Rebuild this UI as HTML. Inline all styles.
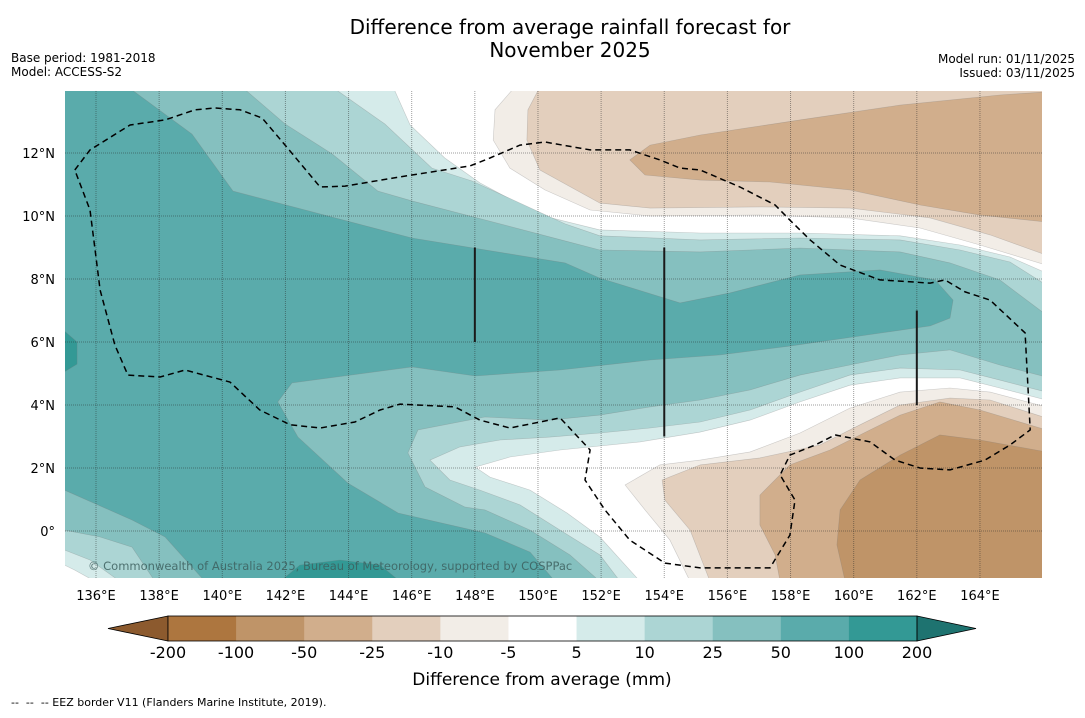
<!DOCTYPE html>
<html><head><meta charset="utf-8"><style>
body{margin:0;background:#fff;width:1085px;height:713px;overflow:hidden;font-family:"Liberation Sans",sans-serif;}
svg text{font-family:"DejaVu Sans","Liberation Sans",sans-serif;}
</style></head><body>
<svg id="chart" width="1085" height="713" viewBox="0 0 1085 713" xmlns="http://www.w3.org/2000/svg">
<text x="570" y="34" font-size="20" text-anchor="middle" fill="#000">Difference from average rainfall forecast for</text>
<text x="570" y="57" font-size="20" text-anchor="middle" fill="#000">November 2025</text>
<text x="11" y="62" font-size="12">Base period: 1981-2018</text>
<text x="11" y="76" font-size="12">Model: ACCESS-S2</text>
<text x="1075" y="63" font-size="12" text-anchor="end">Model run: 01/11/2025</text>
<text x="1075" y="77" font-size="12" text-anchor="end">Issued: 03/11/2025</text>
<defs><clipPath id="mapclip"><rect x="65" y="91" width="977" height="487"/></clipPath></defs>
<rect x="65" y="91" width="977" height="487" fill="#fff"/>
<g id="fills" clip-path="url(#mapclip)"></g>
<g id="grid" clip-path="url(#mapclip)"></g>
<g id="lines" clip-path="url(#mapclip)"></g>
<text x="88" y="570" font-size="11.5" fill="#3d5f5e" fill-opacity="0.85">© Commonwealth of Australia 2025, Bureau of Meteorology, supported by COSPPac</text>
<g id="xticks"></g>
<g id="yticks"></g>
<g id="cbar"></g>
<text x="542" y="685" font-size="17" text-anchor="middle">Difference from average (mm)</text>
<text x="11" y="706" font-size="11" xml:space="preserve">--  --  -- EEZ border V11 (Flanders Marine Institute, 2019).</text>
</svg>
<script>
// ---- data (lon/lat, mm) ----
const levelColors = ["#8c5a2e","#ad763f","#bf9468","#d1ae8c","#e3cfbd","#f2ede7","#ffffff","#d5ebea","#acd5d4","#85c0bf","#5aabab","#339995","#1e7370"];
const levelTicks = ["-200","-100","-50","-25","-10","-5","5","10","25","50","100","200"];
const lonTicks = [136,138,140,142,144,146,148,150,152,154,156,158,160,162,164];
const latTicks = [0,2,4,6,8,10,12];
const wet5 = [[135.0,14.1],[145.41,14.1],[145.95,12.89],[147.05,11.84],[148.16,11.05],[150.06,10.03],[151.96,9.56],[155.14,9.46],[158.30,9.46],[161.47,9.37],[163.37,9.08],[164.95,8.70],[166.1,8.19],[166.1,4.16],[164.63,4.54],[163.37,4.86],[161.47,4.86],[159.88,4.63],[158.30,4.10],[156.72,3.52],[155.14,3.14],[153.23,2.83],[150.70,2.57],[149.11,2.35],[148.01,2.03],[148.48,1.71],[149.75,1.30],[150.92,0.57],[151.96,-0.19],[153.23,-1.6],[135.97,-1.6],[135.33,-1.24],[135.0,-1.08]];
const wet10 = [[135.0,14.1],[143.48,14.1],[145.15,12.92],[146.64,11.52],[147.91,11.11],[150.86,9.75],[151.96,9.37],[155.14,9.24],[158.30,9.30],[161.47,9.24],[163.37,8.92],[164.95,8.54],[166.1,7.81],[166.1,4.41],[164.63,4.79],[163.37,5.11],[161.47,5.17],[159.88,4.95],[158.30,4.41],[156.72,3.84],[155.14,3.46],[153.55,3.27],[151.96,3.11],[150.38,2.98],[148.80,2.89],[147.53,2.67],[146.58,2.25],[147.21,1.62],[148.16,1.30],[149.43,0.83],[150.70,0.03],[151.96,-0.76],[152.60,-1.6],[136.76,-1.6],[135.81,-0.92],[135.0,-0.60]];
const wet25 = [[135.0,14.1],[140.62,14.1],[141.99,12.92],[143.48,11.97],[144.93,10.79],[146.01,10.48],[150.86,9.21],[151.96,8.92],[155.14,8.86],[158.30,8.98],[161.47,8.86],[163.05,8.51],[164.63,7.97],[166.1,6.86],[166.1,4.89],[164.63,5.27],[163.05,5.75],[161.47,5.59],[159.88,5.27],[158.30,4.95],[156.72,4.48],[155.14,4.16],[153.55,3.94],[151.96,3.68],[150.38,3.52],[148.32,3.62],[146.20,3.21],[145.88,2.48],[146.42,1.40],[147.69,0.76],[148.32,0.67],[149.75,0.03],[151.01,-0.76],[151.96,-1.6],[137.87,-1.6],[137.14,-0.51],[136.13,-0.19],[135.0,0.03]];
const wet50 = [[135.0,14.1],[137.01,14.1],[139.04,12.60],[140.34,10.79],[146.01,9.30],[150.86,8.51],[151.96,8.03],[154.50,7.24],[156.08,7.56],[158.30,8.13],[160.83,8.29],[162.58,7.97],[163.15,7.33],[163.05,6.76],[162.42,6.51],[160.20,6.19],[157.98,5.87],[155.77,5.59],[153.55,5.43],[150.70,5.11],[148.01,4.92],[146.01,5.21],[142.21,4.70],[141.76,4.10],[142.40,2.98],[143.98,1.52],[145.57,0.57],[148.32,-0.06],[149.75,-0.67],[150.54,-1.6],[139.45,-1.6],[138.19,-0.19],[137.14,0.35],[135.0,1.30]];
const wet100a = [[141.83,-1.6],[142.46,-1.08],[143.73,-0.92],[145.0,-1.08],[145.63,-1.6]];
const wet100b = [[135.0,6.35],[135.4,6.0],[135.4,5.3],[135.0,5.05]];
const dry5n = [[149.27,14.1],[148.64,13.37],[148.58,12.41],[149.11,11.52],[150.22,10.83],[151.65,10.19],[153.55,10.00],[157.03,10.03],[159.88,9.94],[162.10,9.62],[164.00,9.08],[166.1,8.44],[166.1,14.1]];
const dry10n = [[150.06,14.1],[149.68,13.37],[149.65,12.41],[150.06,11.46],[151.96,10.41],[153.55,10.25],[157.03,10.29],[159.88,10.25],[162.42,9.94],[164.32,9.40],[166.1,8.76],[166.1,14.1]];
const dry25n = [[166.1,13.94],[164.63,13.84],[161.47,13.52],[158.30,13.05],[155.14,12.57],[153.55,12.25],[152.91,11.78],[153.39,11.30],[155.14,11.14],[157.35,11.08],[159.88,10.83],[162.10,10.35],[164.00,10.03],[166.1,9.81]];
const dry5s = [[166.1,3.94],[164.32,4.41],[163.05,4.54],[161.47,4.41],[159.88,3.90],[158.30,3.11],[156.72,2.51],[155.14,2.25],[153.86,2.10],[152.76,1.46],[153.39,0.67],[154.18,-0.29],[154.82,-1.6],[166.1,-1.6]];
const dry10s = [[166.1,3.59],[164.32,4.16],[163.05,4.22],[161.47,4.00],[160.20,3.37],[158.93,2.73],[157.03,2.32],[155.14,2.10],[153.93,1.62],[154.02,0.98],[154.82,0.03],[155.45,-1.6],[166.1,-1.6]];
const dry25s = [[166.1,3.21],[164.00,3.84],[162.73,4.10],[161.47,3.68],[160.52,3.21],[159.25,2.57],[157.98,2.10],[157.03,1.14],[157.03,0.19],[157.51,-0.76],[157.67,-1.6],[166.1,-1.6]];
const dry50s = [[166.1,2.51],[164.00,2.89],[162.73,3.05],[161.47,2.41],[160.20,1.62],[159.57,0.67],[159.47,-0.44],[159.73,-1.6],[166.1,-1.6]];
const eezBorder = [[135.33,11.46],[135.81,12.10],[137.08,12.89],[138.19,13.05],[139.14,13.37],[139.77,13.43],[140.56,13.37],[141.26,13.11],[141.99,12.25],[143.10,10.92],[143.89,10.95],[145.63,11.24],[147.85,11.59],[148.48,11.84],[149.43,12.25],[150.22,12.35],[151.65,12.10],[152.91,12.10],[153.86,11.78],[154.50,11.52],[155.14,11.46],[156.40,10.92],[157.51,10.35],[157.98,9.87],[158.62,9.24],[159.57,8.44],[160.83,7.97],[162.42,7.87],[162.89,7.97],[163.53,7.59],[164.32,7.33],[165.43,6.29],[165.59,3.21],[164.95,2.73],[164.16,2.25],[163.05,1.94],[162.10,2.00],[161.31,2.25],[160.52,2.83],[159.41,3.05],[158.78,2.73],[157.98,2.41],[157.67,1.78],[158.14,0.98],[157.98,-0.13],[157.35,-1.17],[155.14,-1.17],[154.02,-1.02],[152.91,-0.29],[152.12,0.67],[151.49,1.62],[151.65,2.57],[150.70,3.59],[150.06,3.46],[149.11,3.27],[148.16,3.52],[147.37,3.94],[145.63,4.03],[145.00,3.84],[144.20,3.46],[143.10,3.27],[142.15,3.37],[141.19,3.84],[140.24,4.73],[138.82,5.11],[138.03,4.89],[137.01,4.95],[136.60,5.90],[136.13,7.65],[135.97,8.92],[135.81,10.19],[135.33,11.46]];
const meridianSegLon = [148,154,162];
const meridianSegFrom = [9,9,7];
const meridianSegTo = [6,3,4];

// ---- axis functions ----
const X = lon => 96 + (lon - 136) * 31.57;
const Y = lat => 531 - lat * 31.5;
const NS = "http://www.w3.org/2000/svg";
function mk(tag, parent){ const e = document.createElementNS(NS, tag); parent.appendChild(e); return e; }
const pathOf = (pts, close) => pts.map((p,i)=>(i?"L":"M")+X(p[0]).toFixed(1)+","+Y(p[1]).toFixed(1)).join("") + (close?"Z":"");

const fills = document.getElementById("fills");
const layers = [
 [wet5,7,"fill-5-to-10"],[wet10,8,"fill-10-to-25"],[wet25,9,"fill-25-to-50"],[wet50,10,"fill-50-to-100"],
 [wet100a,11,"fill-100-to-200-south"],[wet100b,11,"fill-100-to-200-west"],
 [dry5n,5,"fill-minus5-north"],[dry10n,4,"fill-minus10-north"],[dry25n,3,"fill-minus25-north"],
 [dry5s,5,"fill-minus5-south"],[dry10s,4,"fill-minus10-south"],[dry25s,3,"fill-minus25-south"],[dry50s,2,"fill-minus50-south"]
];
layers.forEach(L=>{
  const p = mk("path", fills);
  
  
  p.setAttribute("d", pathOf(L[0], true));
  p.setAttribute("fill", levelColors[L[1]]);
  p.setAttribute("stroke", "rgba(120,120,120,0.35)");
  p.setAttribute("stroke-width", "0.6");
});

const grid = document.getElementById("grid");
lonTicks.forEach(lon=>{
  const l = mk("line", grid);
  
  
  l.setAttribute("x1", X(lon)); l.setAttribute("x2", X(lon));
  l.setAttribute("y1", 91); l.setAttribute("y2", 578);
  l.setAttribute("stroke", "rgba(40,40,40,0.45)"); l.setAttribute("stroke-width", "1"); l.setAttribute("stroke-dasharray", "1 1");
});
latTicks.forEach(lat=>{
  const l = mk("line", grid);
  
  
  l.setAttribute("x1", 65); l.setAttribute("x2", 1042);
  l.setAttribute("y1", Y(lat)); l.setAttribute("y2", Y(lat));
  l.setAttribute("stroke", "rgba(40,40,40,0.45)"); l.setAttribute("stroke-width", "1"); l.setAttribute("stroke-dasharray", "1 1");
});

const lines = document.getElementById("lines");
const eez = mk("path", lines);


eez.setAttribute("d", pathOf(eezBorder, false));
eez.setAttribute("fill", "none"); eez.setAttribute("stroke", "#000"); eez.setAttribute("stroke-width", "1.5"); eez.setAttribute("stroke-dasharray", "6 4");
meridianSegLon.forEach((lon,i)=>{
  const l = mk("line", lines);
  
  
  l.setAttribute("x1", X(lon)); l.setAttribute("x2", X(lon));
  l.setAttribute("y1", Y(meridianSegFrom[i])); l.setAttribute("y2", Y(meridianSegTo[i]));
  l.setAttribute("stroke", "#1a1a1a"); l.setAttribute("stroke-width", "2");
});

const xt = document.getElementById("xticks");
lonTicks.forEach(lon=>{
  const t = mk("text", xt);
  
  
  t.setAttribute("x", X(lon)); t.setAttribute("y", 600); t.setAttribute("font-size", "13"); t.setAttribute("text-anchor", "middle");
  t.textContent = lon + "°E";
});
const yt = document.getElementById("yticks");
latTicks.forEach(lat=>{
  const t = mk("text", yt);
  
  
  t.setAttribute("x", 55); t.setAttribute("y", Y(lat)+5); t.setAttribute("font-size", "13"); t.setAttribute("text-anchor", "end");
  t.textContent = lat === 0 ? "0°" : lat + "°N";
});

// colorbar
const cb = document.getElementById("cbar");
const cx0 = 168, cx1 = 917, cy0 = 616, cy1 = 641, nb = levelTicks.length - 1;
const bw = (cx1 - cx0) / nb;
const lt = mk("polygon", cb);


lt.setAttribute("points", `${cx0},${cy0} 108,${(cy0+cy1)/2} ${cx0},${cy1}`);
lt.setAttribute("fill", levelColors[0]); lt.setAttribute("stroke", "#000"); lt.setAttribute("stroke-width", "0.8");
for (let i = 0; i < nb; i++) {
  const r = mk("rect", cb);
  
  
  r.setAttribute("x", cx0 + i*bw); r.setAttribute("y", cy0); r.setAttribute("width", bw+0.5); r.setAttribute("height", cy1-cy0);
  r.setAttribute("fill", levelColors[i+1]);
}
const rt = mk("polygon", cb);


rt.setAttribute("points", `${cx1},${cy0} 976,${(cy0+cy1)/2} ${cx1},${cy1}`);
rt.setAttribute("fill", levelColors[levelColors.length-1]); rt.setAttribute("stroke", "#000"); rt.setAttribute("stroke-width", "0.8");
const fr = mk("rect", cb);


fr.setAttribute("x", cx0); fr.setAttribute("y", cy0); fr.setAttribute("width", cx1-cx0); fr.setAttribute("height", cy1-cy0);
fr.setAttribute("fill", "none"); fr.setAttribute("stroke", "#000"); fr.setAttribute("stroke-width", "0.8");
levelTicks.forEach((lab,i)=>{
  const t = mk("text", cb);
  
  
  t.setAttribute("x", cx0 + i*bw); t.setAttribute("y", 658); t.setAttribute("font-size", "16"); t.setAttribute("text-anchor", "middle");
  t.textContent = lab;
});
</script>
</body></html>
